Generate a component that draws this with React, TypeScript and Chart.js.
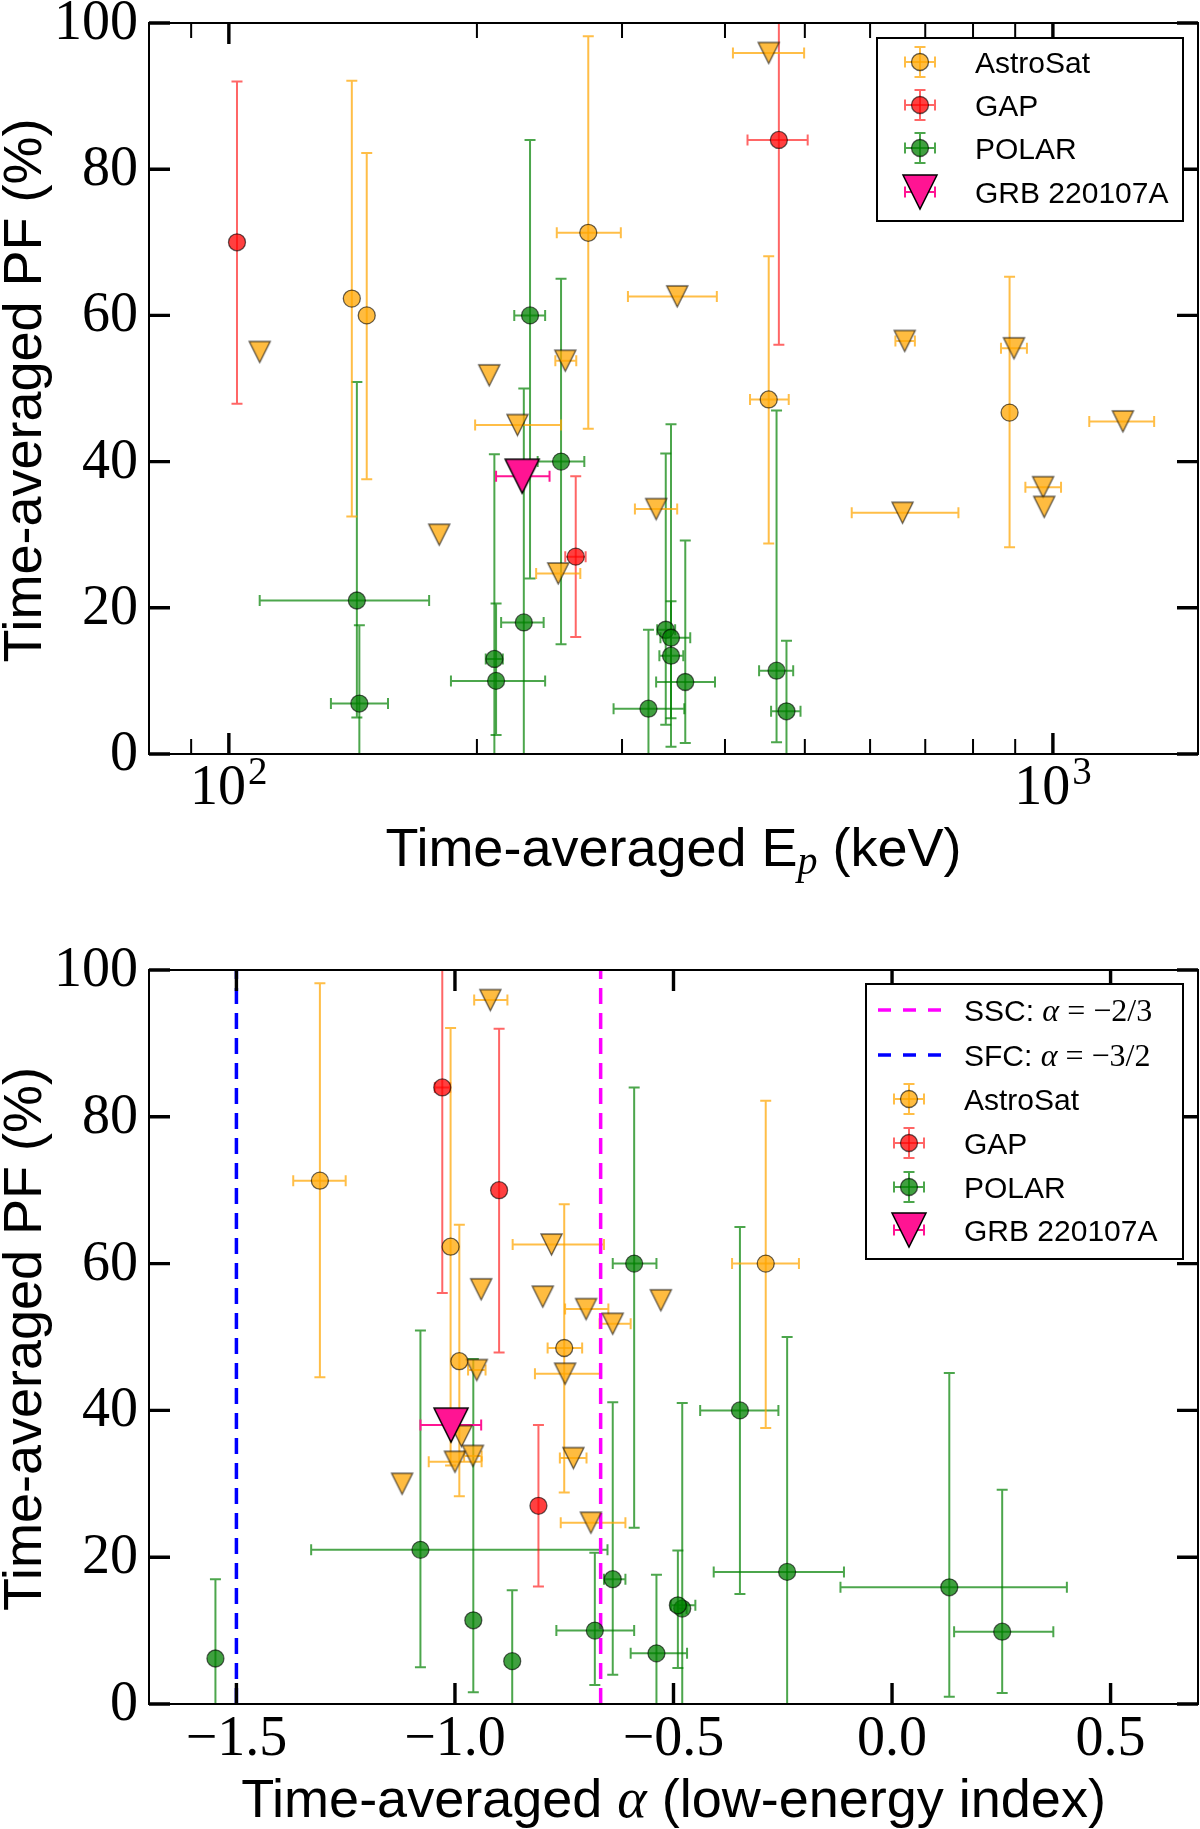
import React, { useEffect, useRef } from 'react';
import { Chart, registerables } from 'chart.js';

Chart.register(...registerables);

// ---------------- data ----------------
// AstroSat detections (circles)
const astroPF = [62.3, 60.0, 71.3, 48.5, 46.7];
const astroPFLow = [32.5, 37.6, 44.5, 28.8, 28.3];
const astroPFHigh = [92.1, 82.2, 98.2, 68.1, 65.3];
const astroEp = [141, 147, 273, 452, 886];
const astroEpLow = [141, 147, 250, 429, 886];
const astroEpHigh = [141, 147, 299, 478, 886];
const astroAlpha = [-1.01, -0.289, -1.309, -0.75, -0.99];
const astroAlphaLow = [-1.01, -0.366, -1.37, -0.788, -0.99];
const astroAlphaHigh = [-1.01, -0.213, -1.25, -0.709, -0.99];

// AstroSat upper limits (down triangles)
const ulPF = [55.0, 30.0, 51.8, 45.0, 24.7, 53.8, 33.5, 62.6, 95.9, 33.0, 56.5, 55.5, 36.5, 33.8, 45.5];
const ulEp = [109, 180, 207, 224, 251, 256, 330, 350, 452, 657, 661, 897, 973, 976, 1216];
const ulEpLow = [109, 180, 207, 199, 236, 249, 311, 305, 409, 570, 644, 865, 926, 976, 1107];
const ulEpHigh = [109, 180, 207, 253, 267, 264, 350, 391, 499, 768, 680, 930, 1023, 976, 1327];
const ulAlpha = [-0.529, -1.121, -0.639, -0.748, -0.689, -0.7, -0.729, -0.779, -0.919, -1.0, -0.94, -0.799, -0.985, -0.959, -0.95];
const ulAlphaLow = [-0.529, -1.121, -0.669, -0.817, -0.758, -0.748, -0.76, -0.868, -0.956, -1.06, -0.94, -0.799, -0.985, -0.979, -0.97];
const ulAlphaHigh = [-0.529, -1.121, -0.598, -0.666, -0.61, -0.649, -0.699, -0.659, -0.88, -0.939, -0.94, -0.799, -0.985, -0.939, -0.93];

// GAP
const gapPF = [70.0, 27.0, 84.0];
const gapPFLow = [47.9, 16.0, 56.0];
const gapPFHigh = [92.0, 38.0, 112.0];
const gapEp = [102.3, 263.6, 465];
const gapEpLow = [102.3, 256, 426];
const gapEpHigh = [102.3, 271, 504];
const gapAlpha = [-0.899, -0.809, -1.029];
const gapAlphaLow = [-0.899, -0.809, -1.046];
const gapAlphaHigh = [-0.899, -0.809, -1.011];

// POLAR
const polarPF = [21.0, 6.9, 13.0, 10.0, 18.0, 60.0, 40.0, 6.2, 17.0, 15.9, 13.45, 9.85, 11.4, 5.84];
const polarPFLow = [5.0, 0, 0, 2.6, 0, 24.0, 15.0, 0, 4.0, 1.0, 4.9, 1.5, 1.6, 0];
const polarPFHigh = [50.9, 17.6, 41.0, 20.6, 50.0, 84.0, 65.0, 17.0, 41.1, 45.1, 20.9, 29.2, 47.0, 15.5];
const polarEp = [143, 144, 210, 211, 228, 232, 253, 323, 339, 344, 344, 358, 462, 475];
const polarEpLow = [109, 133, 205, 186, 214, 222, 237, 293, 331, 334, 333, 330, 440, 455];
const polarEpHigh = [175, 156, 215, 242, 241, 242, 270, 357, 348, 363, 356, 389, 484, 494];
const polarAlpha = [-1.079, -0.539, -0.48, -0.68, -0.24, -0.59, -0.348, -1.548, -0.639, 0.131, -0.49, 0.252, -0.958, -0.869];
const polarAlphaLow = [-1.329, -0.598, -0.49, -0.768, -0.408, -0.639, -0.439, -1.548, -0.659, -0.118, -0.506, 0.142, -0.958, -0.869];
const polarAlphaHigh = [-0.651, -0.469, -0.47, -0.59, -0.11, -0.539, -0.26, -1.548, -0.61, 0.4, -0.45, 0.369, -0.958, -0.869];

// GRB 220107A
const grbPF = [38.0];
const grbEp = [227];
const grbEpLow = [211];
const grbEpHigh = [245];
const grbAlpha = [-1.009];
const grbAlphaLow = [-1.079];
const grbAlphaHigh = [-0.94];

// model lines
const sscAlpha = -2 / 3;
const sfcAlpha = -3 / 2;

// ticks
const pfTicks = [0, 20, 40, 60, 80, 100];
const epMajorTicks = [100, 1000];
const epMajorExp = ['2', '3'];
const epMinorTicks = [90, 200, 300, 400, 500, 600, 700, 800, 900];
const alphaTicks = [-1.5, -1.0, -0.5, 0.0, 0.5];
const alphaTickLabels = ['\u22121.5', '\u22121.0', '\u22120.5', '0.0', '0.5'];

const legendTop = ['AstroSat', 'GAP', 'POLAR', 'GRB 220107A'];

// ---------------- styles ----------------
const SERIF = '"Liberation Serif", "DejaVu Serif", serif';
const SANS = '"Liberation Sans", Arial, sans-serif';

const C_ORANGE = { fill: 'rgba(255,165,0,0.75)', err: 'rgba(255,165,0,0.72)' };
const C_RED = { fill: 'rgba(255,0,0,0.75)', err: 'rgba(255,0,0,0.6)' };
const C_GREEN = { fill: 'rgba(0,128,0,0.75)', err: 'rgba(0,128,0,0.7)' };
const C_PINK = { fill: '#FF1493', err: '#FF1493' };
const EDGE = 'rgba(0,0,0,0.6)';

const W = 1200;
const H1 = 915;
const H2 = 914;
const PLOT_LEFT = 149;
const PLOT_RIGHT_PAD = 2;

type Pt = { x: number; y: number; xLo: number; xHi: number; yLo: number; yHi: number };

function makePoints(xs: number[], xlo: number[], xhi: number[], ys: number[], ylo?: number[], yhi?: number[]): Pt[] {
  return xs.map((x, i) => ({
    x,
    y: ys[i],
    xLo: xlo[i],
    xHi: xhi[i],
    yLo: ylo ? ylo[i] : ys[i],
    yHi: yhi ? yhi[i] : ys[i],
  }));
}

function triangleImage(size: number, fill: string, stroke: string, lw: number) {
  const pad = 2;
  const c = document.createElement('canvas');
  c.width = size + pad * 2;
  c.height = size + pad * 2;
  const g = c.getContext('2d')!;
  g.beginPath();
  g.moveTo(pad, pad);
  g.lineTo(pad + size, pad);
  g.lineTo(pad + size / 2, pad + size);
  g.closePath();
  g.fillStyle = fill;
  g.fill();
  g.lineWidth = lw;
  g.strokeStyle = stroke;
  g.stroke();
  return c;
}

// ---------------- drawing helpers ----------------
function errGlyph(ctx: CanvasRenderingContext2D, px: number, py: number, x0: number, x1: number, y0: number, y1: number, color: string) {
  const cap = 5.5;
  ctx.strokeStyle = color;
  ctx.lineWidth = 2;
  if (Math.abs(y1 - y0) > 0.5) {
    ctx.beginPath();
    ctx.moveTo(px, y0);
    ctx.lineTo(px, y1);
    ctx.moveTo(px - cap, y0);
    ctx.lineTo(px + cap, y0);
    ctx.moveTo(px - cap, y1);
    ctx.lineTo(px + cap, y1);
    ctx.stroke();
  }
  if (Math.abs(x1 - x0) > 0.5) {
    ctx.beginPath();
    ctx.moveTo(x0, py);
    ctx.lineTo(x1, py);
    ctx.moveTo(x0, py - cap);
    ctx.lineTo(x0, py + cap);
    ctx.moveTo(x1, py - cap);
    ctx.lineTo(x1, py + cap);
    ctx.stroke();
  }
}

function circle(ctx: CanvasRenderingContext2D, x: number, y: number, r: number, fill: string) {
  ctx.beginPath();
  ctx.arc(x, y, r, 0, Math.PI * 2);
  ctx.fillStyle = fill;
  ctx.fill();
  ctx.lineWidth = 1.3;
  ctx.strokeStyle = EDGE;
  ctx.stroke();
}

function tri(ctx: CanvasRenderingContext2D, x: number, y: number, s: number, fill: string, stroke: string) {
  ctx.beginPath();
  ctx.moveTo(x - s / 2, y - s / 2);
  ctx.lineTo(x + s / 2, y - s / 2);
  ctx.lineTo(x, y + s / 2);
  ctx.closePath();
  ctx.fillStyle = fill;
  ctx.fill();
  ctx.lineWidth = 1.5;
  ctx.strokeStyle = stroke;
  ctx.stroke();
}

type Piece = { t: string; font: string; dy?: number };
function drawPieces(ctx: CanvasRenderingContext2D, pieces: Piece[], x: number, y: number, align: 'left' | 'center') {
  ctx.textAlign = 'left';
  ctx.textBaseline = 'alphabetic';
  const widths = pieces.map((p) => {
    ctx.font = p.font;
    return ctx.measureText(p.t).width;
  });
  const total = widths.reduce((a, b) => a + b, 0);
  let cx = align === 'center' ? x - total / 2 : x;
  pieces.forEach((p, i) => {
    ctx.font = p.font;
    ctx.fillText(p.t, cx, y + (p.dy || 0));
    cx += widths[i];
  });
}

const errorBarPlugin = {
  id: 'errorBars',
  beforeDatasetsDraw(chart: any) {
    const { ctx, chartArea: a } = chart;
    const xs = chart.scales.x;
    const ys = chart.scales.y;
    ctx.save();
    ctx.beginPath();
    ctx.rect(a.left, a.top, a.right - a.left, a.bottom - a.top);
    ctx.clip();
    const dss = chart.data.datasets;
    for (let di = dss.length - 1; di >= 0; di--) {
      const ds = dss[di];
      if (!ds.errColor) continue;
      for (const p of ds.data as Pt[]) {
        const px = xs.getPixelForValue(p.x);
        const py = ys.getPixelForValue(p.y);
        errGlyph(
          ctx,
          px,
          py,
          xs.getPixelForValue(p.xLo),
          xs.getPixelForValue(p.xHi),
          ys.getPixelForValue(p.yLo),
          ys.getPixelForValue(p.yHi),
          ds.errColor
        );
      }
    }
    ctx.restore();
  },
};

function drawFrameAndYAxis(chart: any) {
  const { ctx, chartArea: a } = chart;
  const ys = chart.scales.y;
  ctx.save();
  ctx.strokeStyle = '#000';
  ctx.lineWidth = 2;
  ctx.strokeRect(a.left, a.top, a.right - a.left, a.bottom - a.top);
  ctx.lineWidth = 3.4;
  ctx.beginPath();
  for (const v of pfTicks) {
    const y = ys.getPixelForValue(v);
    ctx.moveTo(a.left, y);
    ctx.lineTo(a.left + 21, y);
    ctx.moveTo(a.right, y);
    ctx.lineTo(a.right - 21, y);
  }
  ctx.stroke();
  ctx.fillStyle = '#000';
  ctx.font = `56px ${SERIF}`;
  ctx.textAlign = 'right';
  ctx.textBaseline = 'alphabetic';
  for (const v of pfTicks) {
    const y = ys.getPixelForValue(v);
    ctx.fillText(String(v), a.left - 11, y + 16);
  }
  // y title
  ctx.translate(41, (a.top + a.bottom) / 2 + 2);
  ctx.rotate(-Math.PI / 2);
  drawPieces(ctx, [{ t: 'Time-averaged PF (%)', font: `54px ${SANS}` }], 0, 0, 'center');
  ctx.restore();
}

function drawXTicks(chart: any, major: number[], minor: number[]) {
  const { ctx, chartArea: a } = chart;
  const xs = chart.scales.x;
  ctx.save();
  ctx.strokeStyle = '#000';
  ctx.lineWidth = 3.4;
  ctx.beginPath();
  for (const v of major) {
    const x = xs.getPixelForValue(v);
    ctx.moveTo(x, a.bottom);
    ctx.lineTo(x, a.bottom - 21);
    ctx.moveTo(x, a.top);
    ctx.lineTo(x, a.top + 21);
  }
  ctx.stroke();
  ctx.lineWidth = 2;
  ctx.beginPath();
  for (const v of minor) {
    const x = xs.getPixelForValue(v);
    ctx.moveTo(x, a.bottom);
    ctx.lineTo(x, a.bottom - 15);
    ctx.moveTo(x, a.top);
    ctx.lineTo(x, a.top + 15);
  }
  ctx.stroke();
  ctx.restore();
}

const topFramePlugin = {
  id: 'topFrame',
  afterDatasetsDraw(chart: any) {
    const { ctx, chartArea: a } = chart;
    const xs = chart.scales.x;
    drawFrameAndYAxis(chart);
    drawXTicks(chart, epMajorTicks, epMinorTicks);
    ctx.save();
    ctx.fillStyle = '#000';
    epMajorTicks.forEach((v, i) => {
      const x = xs.getPixelForValue(v);
      ctx.font = `56px ${SERIF}`;
      const w1 = ctx.measureText('10').width;
      ctx.font = `39px ${SERIF}`;
      const w2 = ctx.measureText(epMajorExp[i]).width;
      const x0 = x - (w1 + w2 + 2) / 2;
      ctx.textAlign = 'left';
      ctx.textBaseline = 'alphabetic';
      ctx.font = `56px ${SERIF}`;
      ctx.fillText('10', x0, a.bottom + 50);
      ctx.font = `39px ${SERIF}`;
      ctx.fillText(epMajorExp[i], x0 + w1 + 2, a.bottom + 30);
    });
    drawPieces(
      ctx,
      [
        { t: 'Time-averaged E', font: `54px ${SANS}` },
        { t: 'p', font: `italic 40px ${SERIF}`, dy: 8 },
        { t: ' (keV)', font: `54px ${SANS}` },
      ],
      (a.left + a.right) / 2,
      866,
      'center'
    );
    // legend
    const bx = 877, by = 38, bw = 306, bh = 183;
    ctx.fillStyle = '#fff';
    ctx.fillRect(bx, by, bw, bh);
    ctx.strokeStyle = '#000';
    ctx.lineWidth = 2;
    ctx.strokeRect(bx, by, bw, bh);
    const rows = [62, 105, 148, 192];
    const mx = 920;
    const cols = [C_ORANGE, C_RED, C_GREEN];
    rows.forEach((ry, i) => {
      if (i < 3) {
        errGlyph(ctx, mx, ry, mx - 15, mx + 15, ry - 15, ry + 15, cols[i].err);
        circle(ctx, mx, ry, 8.5, cols[i].fill);
      } else {
        errGlyph(ctx, mx, ry, mx - 15, mx + 15, ry, ry, C_PINK.err);
        tri(ctx, mx, ry, 34, C_PINK.fill, '#000');
      }
      ctx.fillStyle = '#000';
      drawPieces(ctx, [{ t: legendTop[i], font: `30px ${SANS}` }], 975, ry + 11, 'left');
    });
    ctx.restore();
  },
};

const bottomFramePlugin = {
  id: 'bottomFrame',
  afterDatasetsDraw(chart: any) {
    const { ctx, chartArea: a } = chart;
    const xs = chart.scales.x;
    drawFrameAndYAxis(chart);
    drawXTicks(chart, alphaTicks, []);
    ctx.save();
    ctx.fillStyle = '#000';
    ctx.font = `56px ${SERIF}`;
    ctx.textAlign = 'center';
    ctx.textBaseline = 'alphabetic';
    alphaTicks.forEach((v, i) => {
      ctx.fillText(alphaTickLabels[i], xs.getPixelForValue(v), a.bottom + 51);
    });
    drawPieces(
      ctx,
      [
        { t: 'Time-averaged ', font: `54px ${SANS}` },
        { t: '\u03b1', font: `italic 56px ${SERIF}` },
        { t: ' (low-energy index)', font: `54px ${SANS}` },
      ],
      (a.left + a.right) / 2,
      902,
      'center'
    );
    // legend
    const bx = 866, by = 69, bw = 317, bh = 275;
    ctx.fillStyle = '#fff';
    ctx.fillRect(bx, by, bw, bh);
    ctx.strokeStyle = '#000';
    ctx.lineWidth = 2;
    ctx.strokeRect(bx, by, bw, bh);
    const rows = [95, 140, 184, 228, 272, 315];
    const mx = 909;
    const tx = 964;
    // dashed samples
    const dashCols = ['#FF00FF', '#0000FF'];
    const dashLabels = ['\u22122/3', '\u22123/2'];
    const dashNames = ['SSC: ', 'SFC: '];
    for (let i = 0; i < 2; i++) {
      ctx.save();
      ctx.strokeStyle = dashCols[i];
      ctx.lineWidth = 3.5;
      ctx.setLineDash([13, 12]);
      ctx.beginPath();
      ctx.moveTo(878, rows[i]);
      ctx.lineTo(942, rows[i]);
      ctx.stroke();
      ctx.restore();
      ctx.fillStyle = '#000';
      drawPieces(
        ctx,
        [
          { t: dashNames[i], font: `30px ${SANS}` },
          { t: '\u03b1', font: `italic 32px ${SERIF}` },
          { t: ' = ' + dashLabels[i], font: `32px ${SERIF}` },
        ],
        tx,
        rows[i] + 11,
        'left'
      );
    }
    const cols = [C_ORANGE, C_RED, C_GREEN];
    for (let i = 0; i < 4; i++) {
      const ry = rows[i + 2];
      if (i < 3) {
        errGlyph(ctx, mx, ry, mx - 15, mx + 15, ry - 15, ry + 15, cols[i].err);
        circle(ctx, mx, ry, 8.5, cols[i].fill);
      } else {
        errGlyph(ctx, mx, ry, mx - 15, mx + 15, ry, ry, C_PINK.err);
        tri(ctx, mx, ry, 34, C_PINK.fill, '#000');
      }
      ctx.fillStyle = '#000';
      drawPieces(ctx, [{ t: legendTop[i], font: `30px ${SANS}` }], tx, ry + 11, 'left');
    }
    ctx.restore();
  },
};

// ---------------- chart builders ----------------
function baseDatasets(panel: 'ep' | 'alpha') {
  const isEp = panel === 'ep';
  const triSmall = triangleImage(21, C_ORANGE.fill, EDGE, 1.4);
  const triBig = triangleImage(34, C_PINK.fill, '#000', 1.5);
  const circ = (fill: string) => ({
    pointStyle: 'circle',
    pointRadius: 8.5,
    pointBackgroundColor: fill,
    pointBorderColor: EDGE,
    pointBorderWidth: 1.3,
  });
  const datasets: any[] = [
    {
      label: 'GRB 220107A',
      data: makePoints(isEp ? grbEp : grbAlpha, isEp ? grbEpLow : grbAlphaLow, isEp ? grbEpHigh : grbAlphaHigh, grbPF),
      pointStyle: triBig,
      pointRadius: 17,
      errColor: C_PINK.err,
    },
    {
      label: 'AstroSat',
      data: makePoints(isEp ? astroEp : astroAlpha, isEp ? astroEpLow : astroAlphaLow, isEp ? astroEpHigh : astroAlphaHigh, astroPF, astroPFLow, astroPFHigh),
      ...circ(C_ORANGE.fill),
      errColor: C_ORANGE.err,
    },
    {
      label: 'AstroSat upper limits',
      data: makePoints(isEp ? ulEp : ulAlpha, isEp ? ulEpLow : ulAlphaLow, isEp ? ulEpHigh : ulAlphaHigh, ulPF),
      pointStyle: triSmall,
      pointRadius: 11,
      errColor: C_ORANGE.err,
    },
    {
      label: 'GAP',
      data: makePoints(isEp ? gapEp : gapAlpha, isEp ? gapEpLow : gapAlphaLow, isEp ? gapEpHigh : gapAlphaHigh, gapPF, gapPFLow, gapPFHigh),
      ...circ(C_RED.fill),
      errColor: C_RED.err,
    },
    {
      label: 'POLAR',
      data: makePoints(isEp ? polarEp : polarAlpha, isEp ? polarEpLow : polarAlphaLow, isEp ? polarEpHigh : polarAlphaHigh, polarPF, polarPFLow, polarPFHigh),
      ...circ(C_GREEN.fill),
      errColor: C_GREEN.err,
    },
  ];
  return datasets;
}

function commonOptions(xScale: any, xAxisHeight: number, topPad: number) {
  return {
    animation: false,
    responsive: false,
    maintainAspectRatio: false,
    events: [],
    layout: { autoPadding: false, padding: { left: 0, right: PLOT_RIGHT_PAD, top: topPad, bottom: 0 } },
    plugins: { legend: { display: false }, tooltip: { enabled: false }, title: { display: false } },
    scales: {
      x: {
        ...xScale,
        grid: { display: false },
        border: { display: false },
        ticks: { display: false },
        title: { display: false },
        afterFit: (s: any) => {
          s.height = xAxisHeight;
          s.paddingLeft = 0;
          s.paddingRight = 0;
        },
      },
      y: {
        type: 'linear',
        min: 0,
        max: 100,
        grid: { display: false },
        border: { display: false },
        ticks: { display: false },
        title: { display: false },
        afterFit: (s: any) => {
          s.width = PLOT_LEFT;
          s.paddingTop = 0;
          s.paddingBottom = 0;
        },
      },
    },
  };
}

function buildTop() {
  return {
    type: 'scatter',
    data: { datasets: baseDatasets('ep') },
    options: commonOptions({ type: 'logarithmic', min: 80, max: 1500 }, H1 - 754, 23),
    plugins: [errorBarPlugin, topFramePlugin],
  };
}

function buildBottom() {
  const ds = baseDatasets('alpha');
  ds.push({
    label: 'SSC',
    data: [
      { x: sscAlpha, y: 0 },
      { x: sscAlpha, y: 100 },
    ],
    showLine: true,
    pointRadius: 0,
    borderColor: '#FF00FF',
    borderWidth: 3.5,
    borderDash: [16, 9],
  });
  ds.push({
    label: 'SFC',
    data: [
      { x: sfcAlpha, y: 0 },
      { x: sfcAlpha, y: 100 },
    ],
    showLine: true,
    pointRadius: 0,
    borderColor: '#0000FF',
    borderWidth: 3.5,
    borderDash: [16, 9],
  });
  return {
    type: 'scatter',
    data: { datasets: ds },
    options: commonOptions({ type: 'linear', min: -1.7, max: 0.7 }, H2 - 789, 55),
    plugins: [errorBarPlugin, bottomFramePlugin],
  };
}

function Panel({ build, height }: { build: () => any; height: number }) {
  const ref = useRef<HTMLCanvasElement>(null);
  useEffect(() => {
    const chart = new Chart(ref.current as HTMLCanvasElement, build());
    return () => chart.destroy();
  }, []);
  return <canvas ref={ref} width={W} height={height} style={{ display: 'block', width: W, height }} />;
}

export default function App() {
  useEffect(() => {
    document.body.style.margin = '0';
    document.body.style.background = '#fff';
  }, []);
  return (
    <div style={{ width: W, background: '#fff' }}>
      <Panel build={buildTop} height={H1} />
      <Panel build={buildBottom} height={H2} />
    </div>
  );
}
